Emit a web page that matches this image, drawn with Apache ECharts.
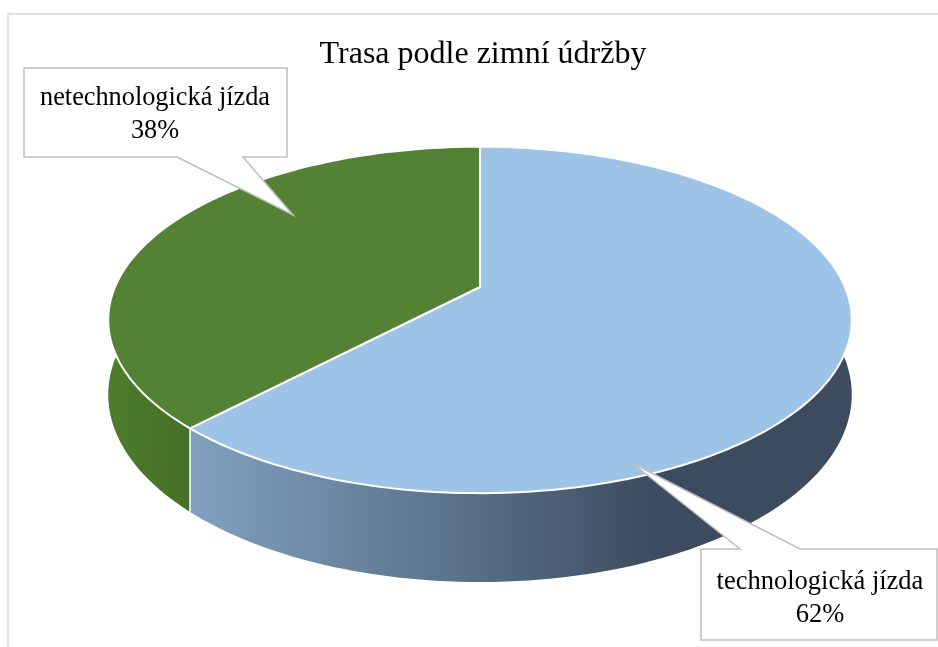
<!DOCTYPE html>
<html>
<head>
<meta charset="utf-8">
<script src="https://cdn.jsdelivr.net/npm/echarts@6/dist/echarts.min.js"></script>
<style>
  html, body { margin: 0; padding: 0; background: #fff; }
  #chart { width: 938px; height: 647px; }
</style>
</head>
<body>
<div id="chart"></div>
<script>
// data
const categories = ['technologická jízda', 'netechnologická jízda'];
const values = [62, 38];
const topColors = ['#9dc3e6', '#548235'];
const chartTitle = 'Trasa podle zimní údržby';

const chart = echarts.init(document.getElementById('chart'));

// 3D pie projection (perspective-ish ellipse)
const CX = 480, CY = 287, A = 365, B = 167, K = 0.19, DEPTH = 72;
const total = values.reduce((s, v) => s + v, 0);

function proj(t, h) {
  const u = Math.sin(t);
  const v = -Math.cos(t);
  const w = 1 - K * v;
  return [CX + A * u / w, CY + B * v / w + h / w];
}

function arcPoints(t0, t1, h) {
  const pts = [];
  const n = Math.max(8, Math.ceil((t1 - t0) / (Math.PI * 2) * 240));
  for (let i = 0; i <= n; i++) {
    pts.push(proj(t0 + (t1 - t0) * i / n, h));
  }
  return pts;
}

const sideFills = [
  new echarts.graphic.LinearGradient(185, 0, 660, 0, [
    { offset: 0, color: '#82a2c2' },
    { offset: 0.5, color: '#5f7891' },
    { offset: 1, color: '#3c4b5d' }
  ], true),
  new echarts.graphic.LinearGradient(108, 0, 192, 0, [
    { offset: 0, color: '#4d7d2c' },
    { offset: 1, color: '#456f27' }
  ], true)
];

function renderSlice(params, api) {
  const idx = params.dataIndex;
  let before = 0;
  for (let i = 0; i < idx; i++) before += values[i];
  const t0 = before / total * Math.PI * 2;
  const t1 = (before + values[idx]) / total * Math.PI * 2;

  const topArc = arcPoints(t0, t1, 0);
  const bottomArc = arcPoints(t0, t1, DEPTH).reverse();
  const seamTop = proj(t0, 0);
  const seamBottom = proj(t0, DEPTH);

  return {
    type: 'group',
    children: [
      {
        type: 'polygon',
        z2: 1,
        shape: { points: topArc.concat(bottomArc) },
        style: { fill: sideFills[idx], stroke: null }
      },
      {
        type: 'line',
        z2: 5,
        shape: { x1: seamTop[0], y1: seamTop[1], x2: seamBottom[0], y2: seamBottom[1] },
        style: { stroke: '#ffffff', lineWidth: 1.5 }
      },
      {
        type: 'polygon',
        z2: 10,
        shape: { points: [[CX, CY]].concat(topArc) },
        style: { fill: topColors[idx], stroke: '#ffffff', lineWidth: 2, lineJoin: 'round' }
      }
    ]
  };
}

function pct(i) {
  return Math.round(values[i] / total * 100) + '%';
}

const serif = 'Liberation Serif';

function textEl(x, y, text, size, lh) {
  return {
    type: 'text',
    x: x,
    y: y,
    z: 20,
    style: {
      text: text,
      fontFamily: serif,
      fontSize: size,
      lineHeight: lh,
      fill: '#000000',
      align: 'center',
      verticalAlign: 'middle'
    }
  };
}

const option = {
  backgroundColor: '#ffffff',
  animation: false,
  graphic: [
    {
      type: 'rect',
      shape: { x: 8, y: 14, width: 1000, height: 700 },
      style: { fill: null, stroke: '#d9d9d9', lineWidth: 1.5 }
    },
    textEl(483, 55, chartTitle, 32, 34),
    {
      type: 'polygon',
      z: 15,
      shape: { points: [[24, 68], [287, 68], [287, 157], [243, 157], [293, 215], [177, 157], [24, 157]] },
      style: { fill: '#ffffff', stroke: '#bfbfbf', lineWidth: 1.5 }
    },
    textEl(155, 115, categories[1] + '\n' + pct(1), 26.3, 33),
    {
      type: 'polygon',
      z: 15,
      shape: { points: [[701, 549], [740, 549], [632, 463], [800, 549], [937, 549], [937, 640], [701, 640]] },
      style: { fill: '#ffffff', stroke: '#bfbfbf', lineWidth: 1.5 }
    },
    textEl(820, 599, categories[0] + '\n' + pct(0), 26.5, 33)
  ],
  series: [{
    type: 'custom',
    coordinateSystem: 'none',
    renderItem: renderSlice,
    data: values.map((v, i) => ({ name: categories[i], value: v }))
  }]
};

chart.setOption(option);
</script>
</body>
</html>
